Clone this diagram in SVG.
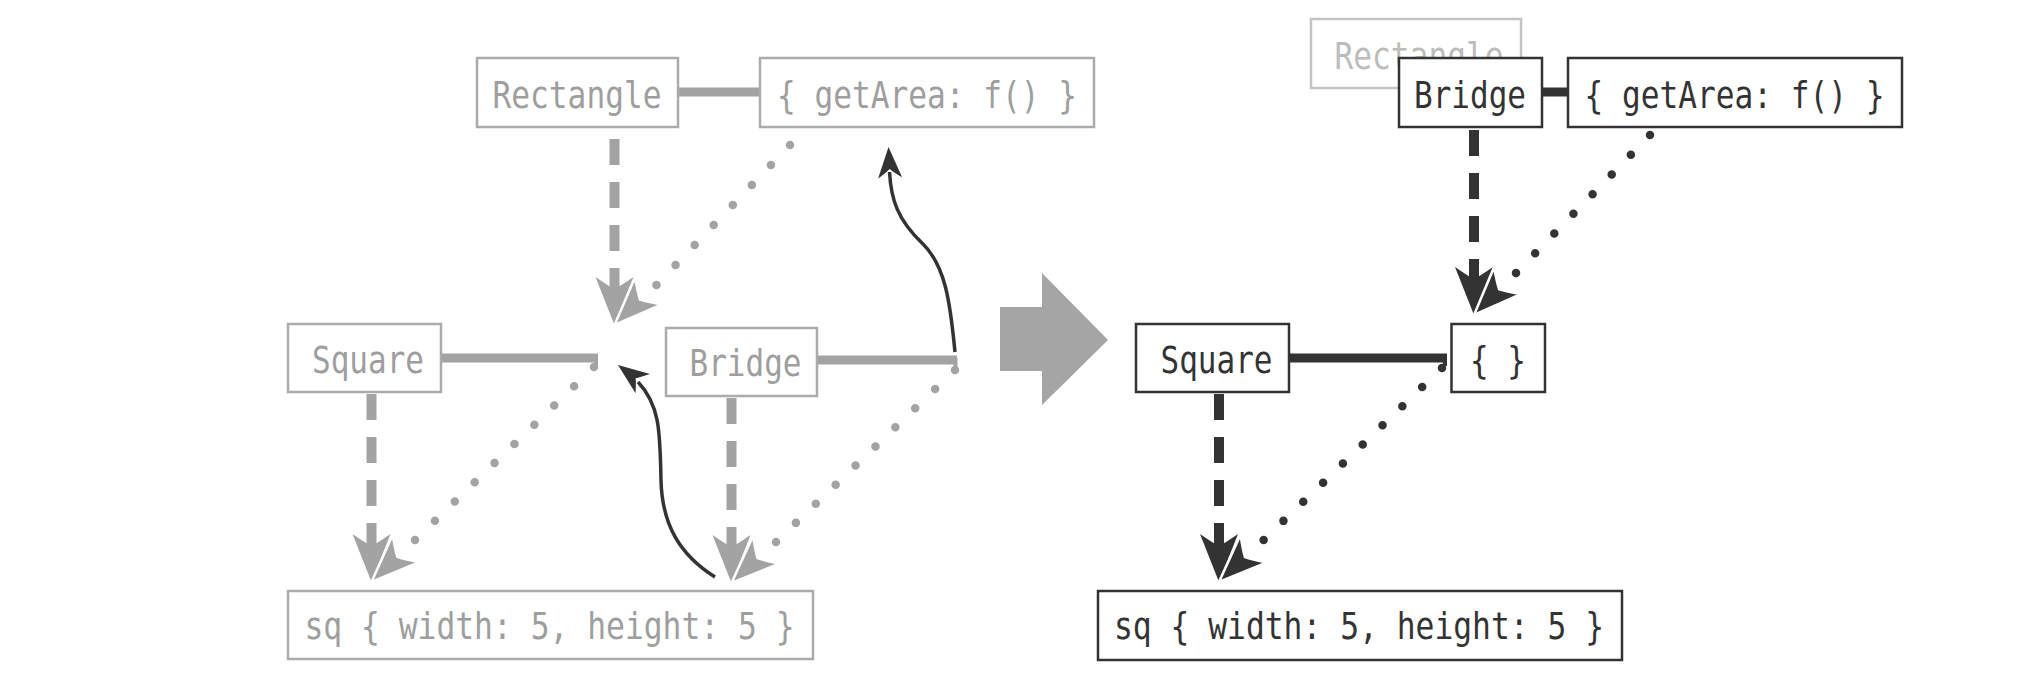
<svg xmlns="http://www.w3.org/2000/svg" xmlns:xlink="http://www.w3.org/1999/xlink" width="2042" height="690" viewBox="0 0 2042 690">
<style>
text{font-family:"DejaVu Sans Mono","Liberation Mono",monospace;font-size:38px;text-anchor:middle}
.gbox{fill:#fff;stroke:#ababab;stroke-width:2.5}
.dbox{fill:#fff;stroke:#333;stroke-width:2.5}
.fbox{fill:#fff;stroke:#c4c4c4;stroke-width:2.5}
.gt{fill:#9e9e9e}
.dt{fill:#333}
.ft{fill:#bcbcbc}
.gline{stroke:#a3a3a3;stroke-width:9;fill:none}
.dline{stroke:#333;stroke-width:9;fill:none}
.gtick{stroke:#a3a3a3;stroke-width:4}
.dtick{stroke:#333;stroke-width:4}
.gdash{stroke:#a3a3a3;stroke-width:10;stroke-dasharray:26 17;fill:none}
.ddash{stroke:#333;stroke-width:10;stroke-dasharray:26 17;fill:none}
.gdot{stroke:#a3a3a3;stroke-width:8.5;stroke-linecap:round;stroke-dasharray:0 0.9999;fill:none}
.ddot{stroke:#333;stroke-width:8.5;stroke-linecap:round;stroke-dasharray:0 0.9999;fill:none}
.ghead{fill:#a3a3a3}
.dhead{fill:#333}
.cut{stroke:#fff;stroke-width:2.5;stroke-linejoin:miter}
.curve{stroke:#333;stroke-width:3.5;fill:none}
</style>
<defs>
<path id="head" d="M0,0 L-48,-19 Q-39,-6 -36,0 Q-39,6 -48,19 Z"/>
<path id="chead" d="M0,0 L-31,-12 Q-25,-3 -22,0 Q-25,3 -31,12 Z"/>
</defs>

<g id="connectors">
  <!-- left side -->
  <path class="gline" d="M678,92 L760,92"/>
  <path class="gline" d="M441,358 L598,358"/>
  <path class="gtick" d="M596,356 L596,366"/>
  <path class="gline" d="M817,360 L957,360"/>
  <path class="gtick" d="M955.5,358 L955.5,368"/>

  <path class="gdash" d="M614.5,139 L614.5,292"/>
  <path class="gdot" pathLength="7" d="M790,145 L656.5,285"/>
  <use xlink:href="#head" class="ghead" transform="translate(614.5,325) rotate(90)"/>
  <use xlink:href="#head" class="ghead cut" transform="translate(614.5,325) rotate(135)"/>

  <path class="gdash" d="M371.5,394 L371.5,549"/>
  <path class="gdot" pathLength="9" d="M594,367 L415,540"/>
  <use xlink:href="#head" class="ghead" transform="translate(371.5,582) rotate(90)"/>
  <use xlink:href="#head" class="ghead cut" transform="translate(371.5,582) rotate(135.8)"/>

  <path class="gdash" d="M731.5,398 L731.5,552"/>
  <path class="gdot" pathLength="9" d="M955,370 L776,542"/>
  <use xlink:href="#head" class="ghead" transform="translate(731.5,583) rotate(90)"/>
  <use xlink:href="#head" class="ghead cut" transform="translate(731.5,583) rotate(136.3)"/>

  <path class="curve" d="M955,352 C950,300 945,265 922,243 C898,220 891,200 889.5,172"/>
  <use xlink:href="#chead" class="dhead" transform="translate(888.5,147) rotate(-93)"/>
  <path class="curve" d="M715,577 C680,555 662,525 661,480 C660,432 660,405 638,382"/>
  <use xlink:href="#chead" class="dhead" transform="translate(618,365) rotate(-143)"/>

  <!-- right side -->
  <path class="dline" d="M1542,92 L1568,92"/>
  <path class="dline" d="M1289,358 L1447,358"/>
  <path class="dtick" d="M1445,356 L1445,366"/>

  <path class="ddash" d="M1474,130 L1474,284"/>
  <path class="ddot" pathLength="7" d="M1650,135 L1516,273"/>
  <use xlink:href="#head" class="dhead" transform="translate(1474,315) rotate(90)"/>
  <use xlink:href="#head" class="dhead cut" transform="translate(1474,315) rotate(134.4)"/>

  <path class="ddash" d="M1219,394 L1219,549"/>
  <path class="ddot" pathLength="9" d="M1442,368 L1263.6,540"/>
  <use xlink:href="#head" class="dhead" transform="translate(1219,582) rotate(90)"/>
  <use xlink:href="#head" class="dhead cut" transform="translate(1219,582) rotate(136.2)"/>
</g>

<g id="transition-arrow">
  <polygon fill="#a5a5a5" points="1000,307 1042,307 1042,273 1108,340 1042,405 1042,371 1000,371"/>
</g>

<g id="left-rectangle">
  <rect class="gbox" x="477" y="58" width="201" height="69"/>
  <text class="gt" x="577" y="108" textLength="169" lengthAdjust="spacingAndGlyphs">Rectangle</text>
</g>
<g id="left-getarea">
  <rect class="gbox" x="760" y="58" width="334" height="69"/>
  <text class="gt" x="927" y="108" textLength="300" lengthAdjust="spacingAndGlyphs">{ getArea: f() }</text>
</g>
<g id="left-square">
  <rect class="gbox" x="288" y="324" width="153" height="68"/>
  <text class="gt" x="368" y="373" textLength="112" lengthAdjust="spacingAndGlyphs">Square</text>
</g>
<g id="left-bridge">
  <rect class="gbox" x="666" y="328" width="151" height="68"/>
  <text class="gt" x="745.5" y="376" textLength="112" lengthAdjust="spacingAndGlyphs">Bridge</text>
</g>
<g id="left-sq">
  <rect class="gbox" x="288" y="591" width="525" height="68"/>
  <text class="gt" x="549.5" y="639" textLength="490" lengthAdjust="spacingAndGlyphs">sq { width: 5, height: 5 }</text>
</g>

<g id="right-rectangle">
  <rect class="fbox" x="1311" y="19" width="210" height="69"/>
  <text class="ft" x="1419" y="69" textLength="169" lengthAdjust="spacingAndGlyphs">Rectangle</text>
</g>
<g id="right-bridge">
  <rect class="dbox" x="1399" y="58" width="143" height="69"/>
  <text class="dt" x="1470" y="108" textLength="112" lengthAdjust="spacingAndGlyphs">Bridge</text>
</g>
<g id="right-getarea">
  <rect class="dbox" x="1568" y="58" width="334" height="69"/>
  <text class="dt" x="1734.5" y="108" textLength="300" lengthAdjust="spacingAndGlyphs">{ getArea: f() }</text>
</g>
<g id="right-square">
  <rect class="dbox" x="1136" y="324" width="153" height="68"/>
  <text class="dt" x="1216.5" y="373" textLength="112" lengthAdjust="spacingAndGlyphs">Square</text>
</g>
<g id="right-empty">
  <rect class="dbox" x="1451.5" y="324" width="93.5" height="68"/>
  <text class="dt" x="1498" y="373" textLength="56" lengthAdjust="spacingAndGlyphs">{ }</text>
</g>
<g id="right-sq">
  <rect class="dbox" x="1098" y="591" width="524" height="69"/>
  <text class="dt" x="1359" y="639" textLength="490" lengthAdjust="spacingAndGlyphs">sq { width: 5, height: 5 }</text>
</g>
</svg>
